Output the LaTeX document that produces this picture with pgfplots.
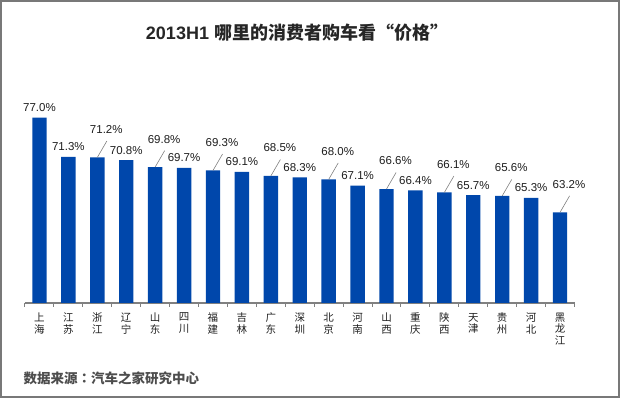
\documentclass[border=0pt]{standalone}
\usepackage{pgfplots}
\pgfplotsset{compat=1.18}
\usepackage{pgfplotstable}
\usepackage{fontspec}
\setmainfont{Liberation Sans}
\newfontfamily\cjk{Noto Sans CJK SC}
\newfontfamily\cjktc{Noto Sans CJK TC}
\definecolor{barblue}{RGB}{0,71,171}
\definecolor{axgray}{RGB}{128,128,128}
\definecolor{framegray}{RGB}{120,120,120}

\pgfplotstableread{
x y
0 77.0
1 71.3
3 70.8
5 69.7
7 69.1
9 68.3
11 67.1
13 66.4
15 65.7
17 65.3
}\plain
\pgfplotstableread{
x y
2 71.2
4 69.8
6 69.3
8 68.5
10 68.0
12 66.6
14 66.1
16 65.6
18 63.2
}\leader

\begin{document}
\begin{tikzpicture}
\useasboundingbox (0,0) rectangle (620pt,398pt);
\draw[framegray, line width=2pt] (1pt,1pt) rectangle (619pt,397pt);
\node[font=\fontsize{18}{20}\selectfont, text={rgb,255:red,38;green,38;blue,38}] at (297pt,365pt)
  {\bfseries 2013H1 {\cjk\bfseries 哪里的消费者购车看“价格”}};
\node[anchor=west, font=\cjk\bfseries\fontsize{13.5}{15}\selectfont, text={rgb,255:red,77;green,77;blue,77}] at (20pt,20pt)
  {数据来源{\cjktc\bfseries ：}汽车之家研究中心};
\begin{axis}[
  at={(25pt,95.2pt)}, anchor=south west,
  scale only axis, width=549.5pt, height=205.65pt,
  xmin=-0.5, xmax=18.5, ymin=50, ymax=80,
  clip=false,
  axis x line*=bottom, axis y line=none,
  x axis line style={axgray, line width=1.5pt, -},
  xtick={0,...,18},
  xticklabels={上\\海,江\\苏,浙\\江,辽\\宁,山\\东,四\\川,福\\建,吉\\林,广\\东,深\\圳,北\\京,河\\南,山\\西,重\\庆,陕\\西,天\\津,贵\\州,河\\北,黑\\龙\\江},
  xticklabel style={align=center, font=\cjk\fontsize{10.5}{11.5}\selectfont, text={rgb,255:red,30;green,30;blue,30}, inner sep=0pt, yshift=-10pt},
  major tick length=0pt,
  minor xtick={-0.5,0.5,...,18.5},
  minor tick length=4pt,
  tick align=outside,
  every minor tick/.style={axgray, line width=1pt},
  /pgf/number format/assume math mode=true,
]
\addplot[ybar, bar width=14.4pt, fill=barblue, draw=none,
  point meta=y,
  nodes near coords={\pgfmathprintnumber[fixed,fixed zerofill,precision=1]{\pgfplotspointmeta}\%},
  every node near coord/.style={anchor=center, yshift=10pt, inner sep=0pt, font=\fontsize{11.5}{13}\selectfont, text={rgb,255:red,30;green,30;blue,30}}
] table[x=x,y=y] {\plain};
\addplot[ybar, bar width=14.4pt, fill=barblue, draw=none,
  point meta=y,
  nodes near coords={\pgfmathprintnumber[fixed,fixed zerofill,precision=1]{\pgfplotspointmeta}\%},
  every node near coord/.style={anchor=center, xshift=9pt, yshift=28pt, inner sep=0pt, font=\fontsize{11.5}{13}\selectfont, text={rgb,255:red,30;green,30;blue,30}}
] table[x=x,y=y] {\leader};
\addplot[axgray, line width=0.6pt, mark=none, -, quiver={u=0.33, v=2.4}] table[x=x,y=y] {\leader};
\end{axis}
\end{tikzpicture}
\end{document}
